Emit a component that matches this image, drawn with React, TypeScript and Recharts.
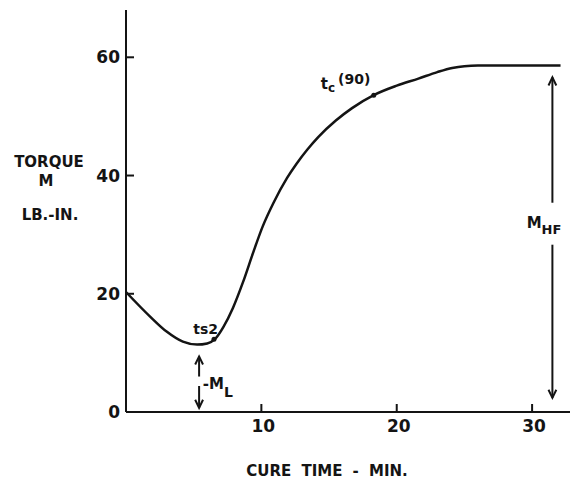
import React from "react";
import {
  LineChart,
  Line,
  XAxis,
  YAxis,
  ReferenceDot,
  ReferenceLine,
} from "recharts";

// cure curve (minutes vs torque lb.-in.)
const cureTime = [
  0, 1.8, 3.0, 4.2, 5.25, 6.0, 6.6, 7.2, 7.9, 8.65, 9.4, 10.1, 10.9, 11.9,
  12.6, 13.4, 14.2, 15.5, 16.7, 18.3, 20.0, 21.6, 23.0, 24.1, 25.0, 26.0, 32.1,
];
const torque = [
  20.3, 16.1, 13.6, 11.9, 11.4, 11.6, 12.4, 14.4, 17.6, 22.0, 27.0, 31.4, 35.4,
  39.6, 42.0, 44.4, 46.5, 49.3, 51.4, 53.6, 55.2, 56.4, 57.5, 58.2, 58.5, 58.6,
  58.6,
];

const xTicks = [10, 20, 30];
const yTicks = [0, 20, 40, 60];

const ts2Point = { x: 6.5, y: 12.3 };
const tc90Point = { x: 18.3, y: 53.6 };
const mhfX = 31.5;
const mlX = 5.4;

const data = cureTime.map((t, i) => ({ t, m: torque[i] }));

const FONT = "DejaVu Sans";
const INK = "#141414";

const YTick = ({ x, y, payload }: any) => (
  <g>
    <line x1={x + 6} x2={x + 14} y1={y} y2={y} stroke={INK} strokeWidth={2} />
    <text
      x={x}
      y={y}
      dy={6}
      textAnchor="end"
      fontFamily={FONT}
      fontWeight="bold"
      fontSize={17}
      fill={INK}
    >
      {payload.value}
    </text>
  </g>
);

const XTick = ({ x, y, payload }: any) => (
  <g>
    <line x1={x} x2={x} y1={y - 20} y2={y - 28} stroke={INK} strokeWidth={2} />
    <text
      x={x + 2}
      y={y}
      textAnchor="middle"
      fontFamily={FONT}
      fontWeight="bold"
      fontSize={17}
      fill={INK}
    >
      {payload.value}
    </text>
  </g>
);

// line with an open arrow head at its second end
const Arrow = ({ x1, y1, x2, y2 }: any) => {
  const a = Math.atan2(y2 - y1, x2 - x1);
  const len = 9;
  const spread = 0.45;
  const hx1 = x2 - len * Math.cos(a - spread);
  const hy1 = y2 - len * Math.sin(a - spread);
  const hx2 = x2 - len * Math.cos(a + spread);
  const hy2 = y2 - len * Math.sin(a + spread);
  return (
    <g>
      <line x1={x1} y1={y1} x2={x2} y2={y2} stroke={INK} strokeWidth={2} />
      <polyline
        points={`${hx1},${hy1} ${x2},${y2} ${hx2},${hy2}`}
        fill="none"
        stroke={INK}
        strokeWidth={2}
      />
    </g>
  );
};

const center = (vb: any) => ({
  cx: vb.x + (vb.width || 0) / 2,
  cy: vb.y + (vb.height || 0) / 2,
});

const Ts2Label = ({ viewBox }: any) => {
  const { cx, cy } = center(viewBox);
  return (
    <text x={cx + 4} y={cy - 5} textAnchor="end" fontFamily={FONT} fontWeight="bold" fontSize={14} fill={INK}>
      ts2
    </text>
  );
};

const Tc90Label = ({ viewBox }: any) => {
  const { cx, cy } = center(viewBox);
  return (
    <text x={cx - 53} y={cy - 6} fontFamily={FONT} fontWeight="bold" fontSize={15} fill={INK}>
      t
      <tspan fontSize={12} dy={3}>c</tspan>
      <tspan fontSize={14} dy={-8} dx={3}>(90)</tspan>
    </text>
  );
};

const MhfLabel = ({ viewBox }: any) => {
  const { cx, cy } = center(viewBox);
  return (
    <text x={cx} y={cy} fontFamily={FONT} fontWeight="bold" fontSize={15} fill={INK}>
      M<tspan fontSize={13} dy={6}>HF</tspan>
    </text>
  );
};

const MlLabel = ({ viewBox }: any) => {
  const { cx, cy } = center(viewBox);
  return (
    <text x={cx} y={cy} fontFamily={FONT} fontWeight="bold" fontSize={15} fill={INK}>
      -M<tspan fontSize={14} dy={8}>L</tspan>
    </text>
  );
};

export default function App() {
  return (
    <div style={{ position: "absolute", left: 0, top: 0, width: 570, height: 480, background: "#fff" }}>
      <LineChart
        width={570}
        height={480}
        data={data}
        margin={{ top: 10, right: 0, left: 0, bottom: 38 }}
      >
        <XAxis
          dataKey="t"
          type="number"
          domain={[0, 32.8]}
          ticks={xTicks}
          allowDataOverflow
          height={30}
          tickSize={0}
          tickMargin={20}
          tickLine={false}
          axisLine={{ stroke: INK, strokeWidth: 2 }}
          tick={<XTick />}
        />
        <YAxis
          type="number"
          domain={[0, 68]}
          ticks={yTicks}
          allowDataOverflow
          width={126}
          tickSize={0}
          tickMargin={6}
          tickLine={false}
          axisLine={{ stroke: INK, strokeWidth: 2 }}
          tick={<YTick />}
        />
        <Line
          dataKey="m"
          type="monotone"
          stroke={INK}
          strokeWidth={2.5}
          dot={false}
          isAnimationActive={false}
        />
        <ReferenceLine segment={[{ x: mhfX, y: 35.4 }, { x: mhfX, y: 56.6 }]} shape={Arrow} />
        <ReferenceLine segment={[{ x: mhfX, y: 28.3 }, { x: mhfX, y: 2.4 }]} shape={Arrow} />
        <ReferenceLine segment={[{ x: mlX, y: 6.0 }, { x: mlX, y: 9.4 }]} shape={Arrow} />
        <ReferenceLine segment={[{ x: mlX, y: 4.4 }, { x: mlX, y: 0.7 }]} shape={Arrow} />
        <ReferenceDot x={ts2Point.x} y={ts2Point.y} r={2.5} fill={INK} stroke="none" label={<Ts2Label />} />
        <ReferenceDot x={tc90Point.x} y={tc90Point.y} r={2.5} fill={INK} stroke="none" label={<Tc90Label />} />
        <ReferenceDot x={29.6} y={31.2} r={0} fill="none" stroke="none" label={<MhfLabel />} />
        <ReferenceDot x={5.67} y={3.9} r={0} fill="none" stroke="none" label={<MlLabel />} />
      </LineChart>
      <svg
        width={570}
        height={480}
        style={{ position: "absolute", left: 0, top: 0, pointerEvents: "none" }}
      >
        <g fontFamily={FONT} fontWeight="bold" fill={INK} textAnchor="middle">
          <text x={49} y={167} fontSize={15}>TORQUE</text>
          <text x={46} y={186} fontSize={15}>M</text>
          <text x={50} y={220} fontSize={15}>LB.-IN.</text>
          <text x={327} y={476} fontSize={15} wordSpacing={5}>CURE TIME - MIN.</text>
        </g>
      </svg>
    </div>
  );
}
